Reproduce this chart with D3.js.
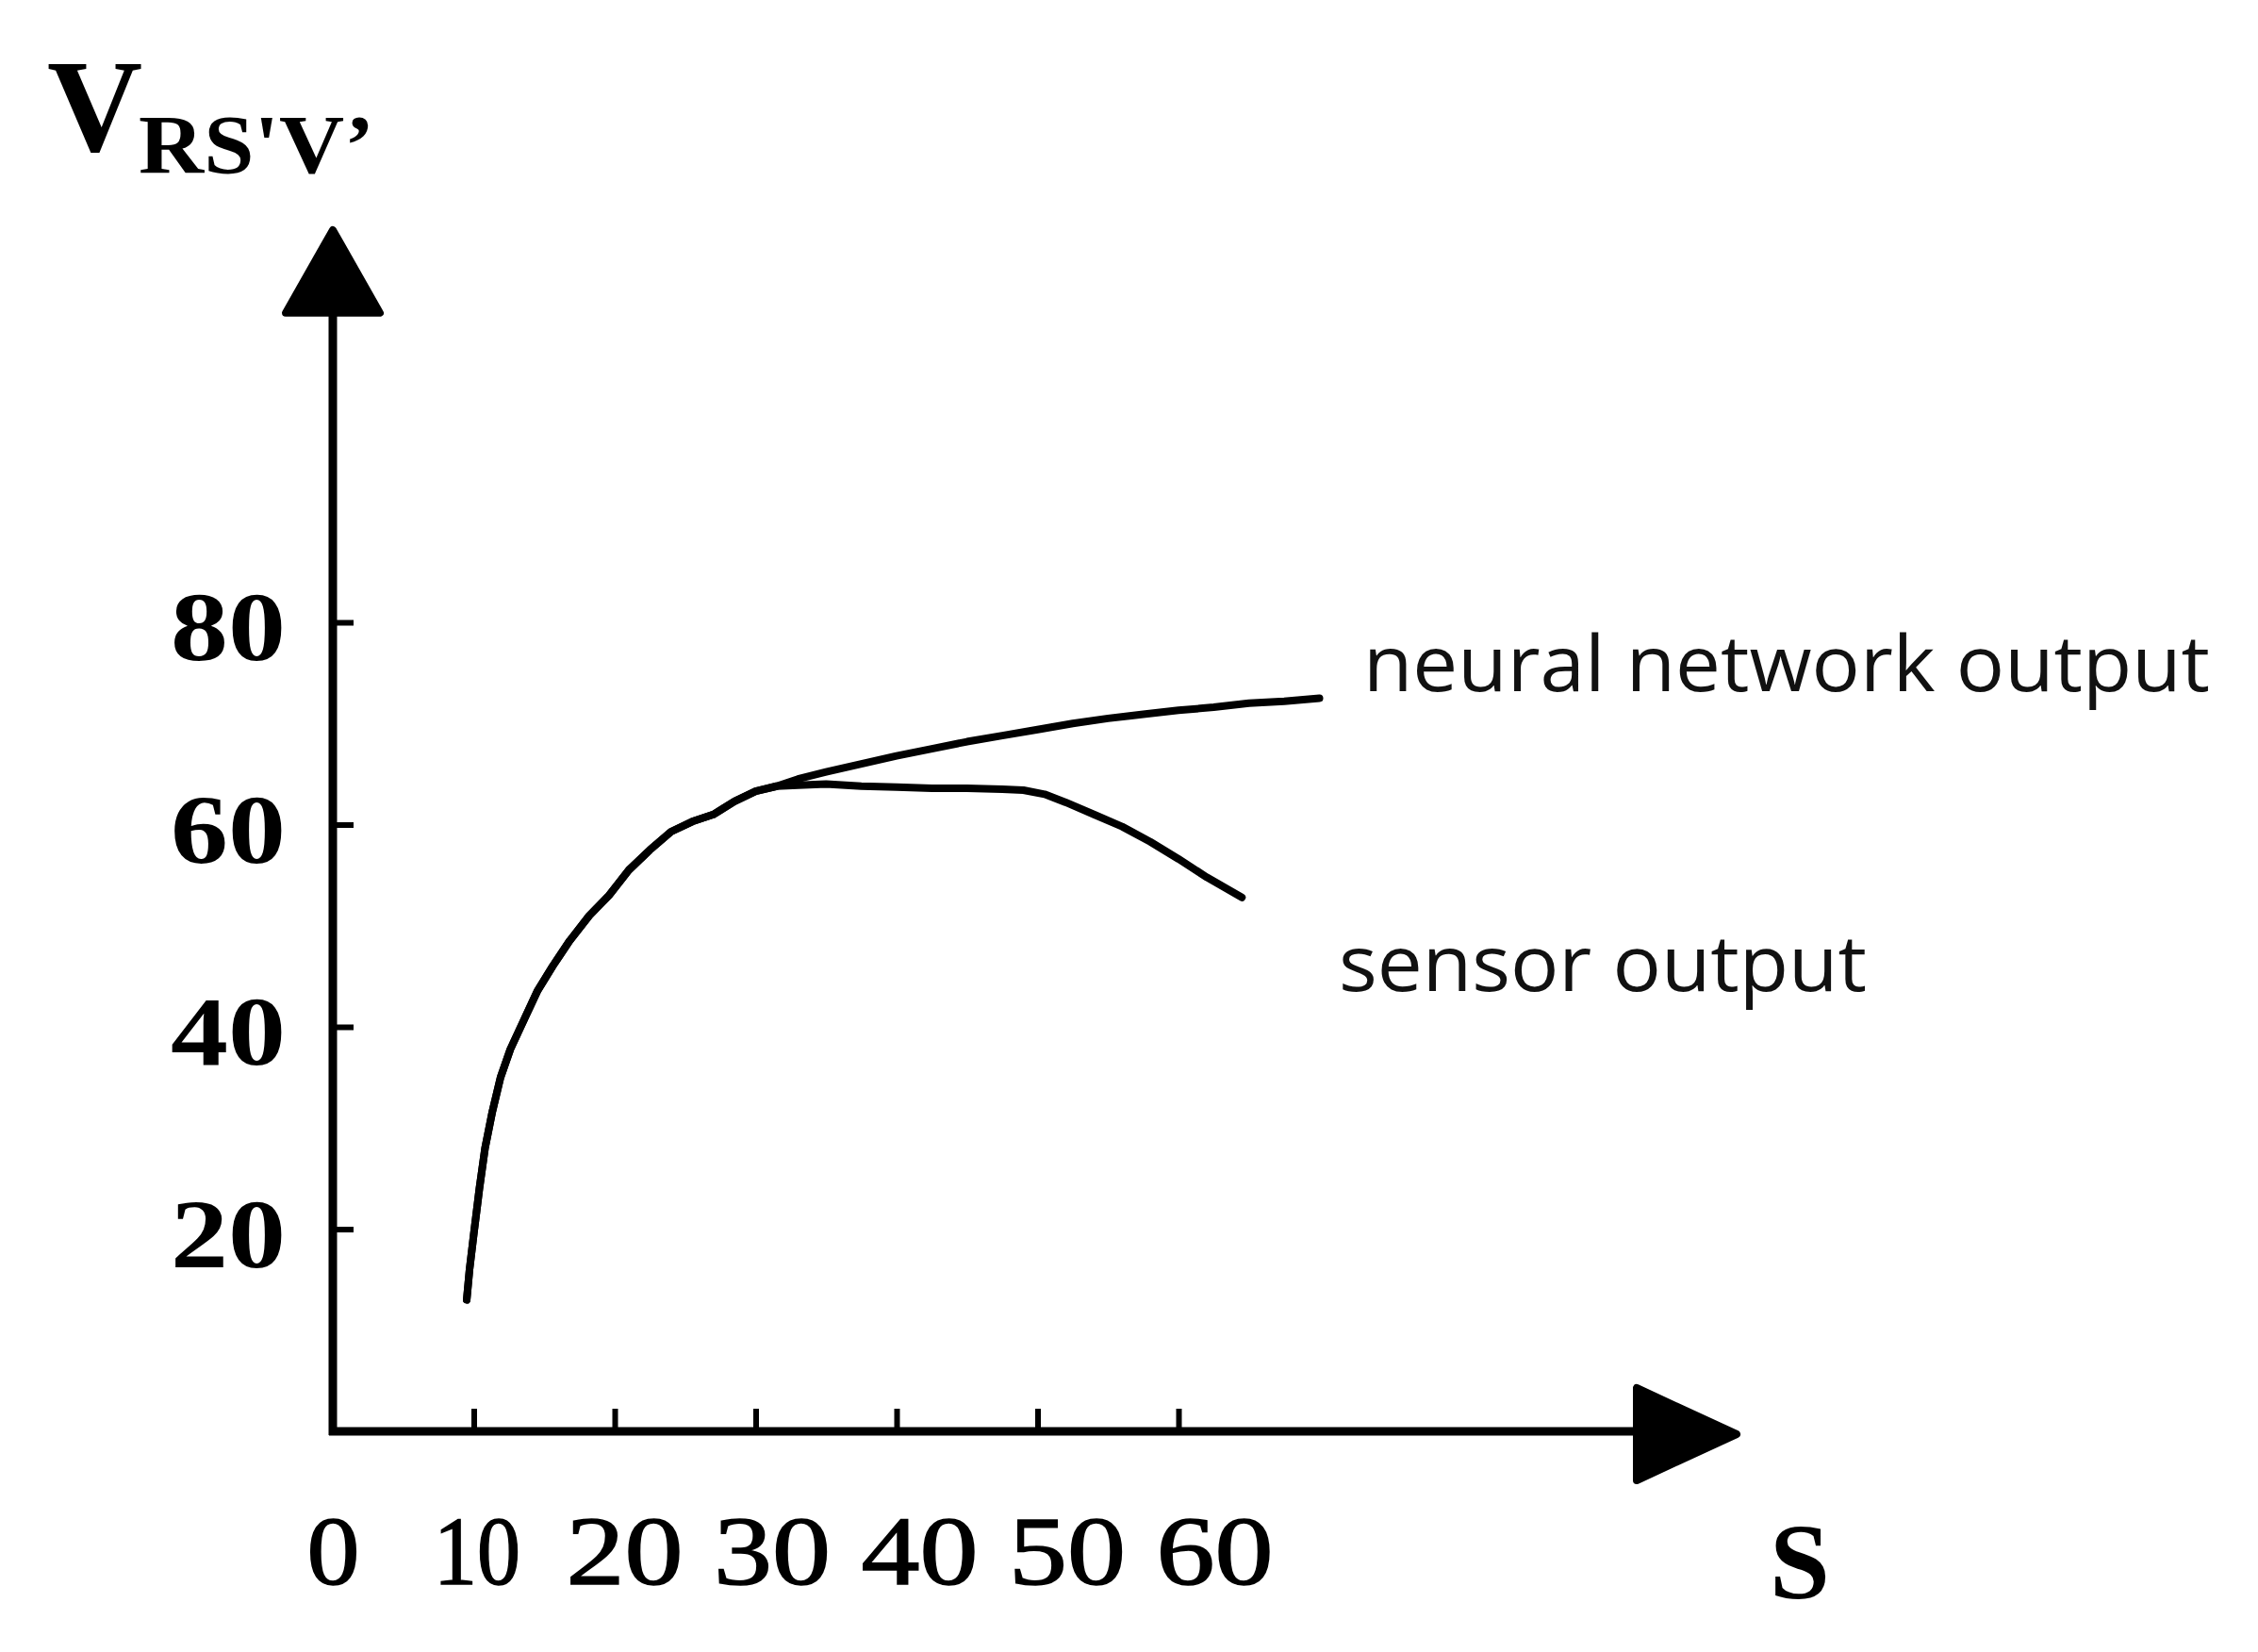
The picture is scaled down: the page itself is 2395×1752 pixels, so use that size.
<!DOCTYPE html>
<html>
<head>
<meta charset="utf-8">
<script src="https://cdn.jsdelivr.net/npm/d3@7"></script>
<style>
  html, body { margin: 0; padding: 0; background: #fff; }
  svg { display: block; }
</style>
</head>
<body>
<svg id="chart" width="2395" height="1752"></svg>
<script>
// ---- data ----
const xTicks = [0, 10, 20, 30, 40, 50, 60];
const yTicks = [20, 40, 60, 80];

// shared rising part of both curves
const commonX = [9.5, 9.7, 10.0, 10.4, 10.8, 11.3, 11.9, 12.6, 13.5, 14.5, 15.6, 16.8, 18.2, 19.6, 21.0, 22.5, 24.0, 25.5, 27.0, 28.5, 30.0, 31.5];
const commonY = [13.0, 16.0, 19.5, 24.0, 28.0, 31.5, 35.0, 37.8, 40.5, 43.5, 46.0, 48.5, 51.0, 53.0, 55.5, 57.5, 59.3, 60.3, 61.0, 62.3, 63.3, 63.8];

const neuralX = [33, 35, 37.5, 40, 42.5, 45, 47.5, 50, 52.5, 55, 57.5, 60, 62.5, 65, 67.5, 70];
const neuralY = [64.5, 65.2, 66.0, 66.8, 67.5, 68.2, 68.8, 69.4, 70.0, 70.5, 70.9, 71.3, 71.6, 72.0, 72.2, 72.5];

const sensorX = [33, 35, 37.5, 40, 42.5, 45, 47.5, 49, 50.5, 52, 54, 56, 58, 60, 62, 64.5];
const sensorY = [63.9, 64.0, 63.8, 63.7, 63.6, 63.6, 63.5, 63.4, 63.0, 62.2, 61.0, 59.8, 58.3, 56.6, 54.8, 52.8];

const seriesNames = ["neural network output", "sensor output"];
const yTitleMain = "V";
const yTitleSub = "RS'V\u2019";
const xTitle = "S";
const xAxisEnd = 100;   // arrow tip of x axis (in data units)
const yAxisEnd = 118.8; // arrow tip of y axis (in data units)

// ---- drawing ----
const svg = d3.select("#chart");
svg.append("rect").attr("width", 2395).attr("height", 1752).attr("fill", "#fff");

const x = d3.scaleLinear().domain([0, 100]).range([353, 1848]);
const y = d3.scaleLinear().domain([0, 80]).range([1518, 660]);

const ink = "#000";
const serif = "'Liberation Serif', 'Times New Roman', serif";

// axis lines
const x0 = x(0), y0 = y(0);
svg.append("line")
  .attr("x1", x0).attr("y1", y0 + 4)
  .attr("x2", x0).attr("y2", y(yAxisEnd) + 60)
  .attr("stroke", ink).attr("stroke-width", 9);
svg.append("line")
  .attr("x1", x0 - 4).attr("y1", y0)
  .attr("x2", x(xAxisEnd) - 70).attr("y2", y0)
  .attr("stroke", ink).attr("stroke-width", 9);

// arrow heads
const ty = y(yAxisEnd);
svg.append("path")
  .attr("d", `M${x0},${ty} L${x0 + 50},${ty + 88} L${x0 - 50},${ty + 88} Z`)
  .attr("fill", ink).attr("stroke", ink).attr("stroke-width", 8).attr("stroke-linejoin", "round");
const tx = x(xAxisEnd);
svg.append("path")
  .attr("d", `M${tx - 6},${y0 + 3} L${tx - 112},${y0 - 46} L${tx - 112},${y0 + 52} Z`)
  .attr("fill", ink).attr("stroke", ink).attr("stroke-width", 8).attr("stroke-linejoin", "round");

// x axis ticks & labels
const xAxis = d3.axisBottom(x).tickValues(xTicks).tickSizeInner(-24).tickSizeOuter(0).tickFormat(d3.format("d"));
const gx = svg.append("g").attr("transform", `translate(0,${y0})`).call(xAxis);
gx.select(".domain").remove();
gx.selectAll(".tick line").attr("stroke", ink).attr("stroke-width", 6)
  .filter(d => d === 0).remove();
gx.selectAll(".tick text")
  .attr("y", 162).attr("dy", null)
  .attr("x", d => d * 0.7 - (d === 0 ? 0 : 4))
  .attr("font-family", serif).attr("font-size", 104)
  .attr("fill", ink).attr("stroke", ink).attr("stroke-width", 1.5)
  .attr("text-anchor", "middle")
  .attr("textLength", d => d === 0 ? 56 : (d === 10 ? 92 : 124))
  .attr("lengthAdjust", "spacingAndGlyphs");

// y axis ticks & labels
const yAxis = d3.axisLeft(y).tickValues(yTicks).tickSizeInner(-22).tickSizeOuter(0).tickFormat(d3.format("d"));
const gy = svg.append("g").attr("transform", `translate(${x0},0)`).call(yAxis);
gy.select(".domain").remove();
gy.selectAll(".tick line").attr("stroke", ink).attr("stroke-width", 6);
gy.selectAll(".tick text")
  .attr("x", -50).attr("dy", "0.38em")
  .attr("font-family", serif).attr("font-size", 104).attr("font-weight", "bold")
  .attr("fill", ink).attr("text-anchor", "end")
  .attr("textLength", 122).attr("lengthAdjust", "spacingAndGlyphs");

// curves
const line = d3.line().x(d => x(d[0])).y(d => y(d[1])).curve(d3.curveLinear);
const common = commonX.map((v, i) => [v, commonY[i]]);
const neural = common.concat(neuralX.map((v, i) => [v, neuralY[i]]));
const sensor = common.concat(sensorX.map((v, i) => [v, sensorY[i]]));
[neural, sensor].forEach(s => {
  svg.append("path").datum(s).attr("d", line)
    .attr("fill", "none").attr("stroke", ink).attr("stroke-width", 8)
    .attr("stroke-linejoin", "round").attr("stroke-linecap", "round");
});

// series labels
const sans = "'Open Sans', 'DejaVu Sans', sans-serif";
svg.append("text").attr("x", 1446).attr("y", 733)
  .attr("font-family", sans).attr("font-size", 82).attr("fill", "#111")
  .attr("textLength", 898).attr("lengthAdjust", "spacingAndGlyphs")
  .text(seriesNames[0]);
svg.append("text").attr("x", 1420).attr("y", 1051)
  .attr("font-family", sans).attr("font-size", 82).attr("fill", "#111")
  .attr("textLength", 560).attr("lengthAdjust", "spacingAndGlyphs")
  .text(seriesNames[1]);

// axis titles
const yt = svg.append("text").attr("x", 50).attr("y", 160)
  .attr("font-family", serif).attr("font-weight", "bold").attr("fill", ink);
yt.append("tspan").attr("font-size", 140).text(yTitleMain);
yt.append("tspan").attr("font-size", 88).attr("dy", 23).attr("dx", -4)
  .attr("textLength", 250).attr("lengthAdjust", "spacingAndGlyphs")
  .text(yTitleSub);

svg.append("text").attr("x", 1909).attr("y", 1695)
  .attr("text-anchor", "middle")
  .attr("font-family", serif).attr("font-weight", "bold").attr("font-size", 115)
  .attr("fill", ink).text(xTitle);
</script>
</body>
</html>
